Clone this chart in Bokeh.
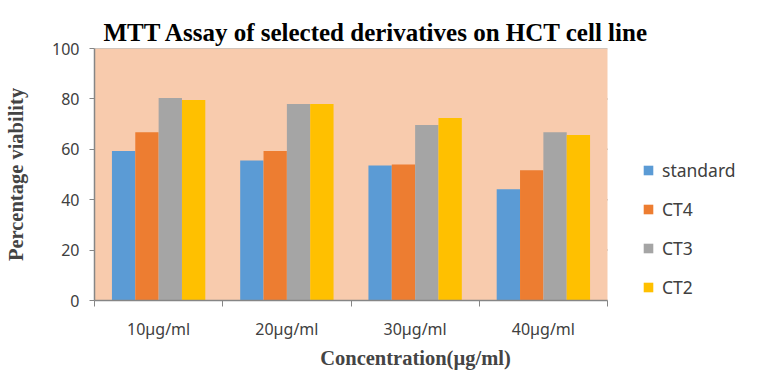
import numpy as np
from bokeh.plotting import figure
from bokeh.models import ColumnDataSource, FixedTicker, Legend, LegendItem, Range1d, BoxAnnotation
from bokeh.transform import dodge
from bokeh.embed import file_html
from bokeh.resources import INLINE

categories = ["10µg/ml", "20µg/ml", "30µg/ml", "40µg/ml"]
series_names = ["standard", "CT4", "CT3", "CT2"]
standard = [59.3, 55.6, 53.6, 44.1]
ct4 = [66.8, 59.3, 54.0, 51.7]
ct3 = [80.4, 78.0, 69.6, 66.8]
ct2 = [79.6, 78.0, 72.4, 65.7]
colors = ["#5B9BD5", "#ED7D31", "#A5A5A5", "#FFC000"]
y_ticks = [0, 20, 40, 60, 80, 100]

n = len(categories)
plot_px = 513      # width of the shaded plot area
frame_px = 642     # frame incl. legend room
x_end = n * frame_px / plot_px

pos = list(np.arange(n) + 0.5)
src = ColumnDataSource(dict(pos=pos, standard=standard, CT4=ct4, CT3=ct3, CT2=ct2))

p = figure(frame_width=frame_px, frame_height=252, output_backend="svg", toolbar_location=None,
           x_range=Range1d(0, x_end), y_range=Range1d(0, 100),
           min_border_left=94, min_border_right=2, min_border_top=48, min_border_bottom=60)

p.background_fill_color = "white"
p.border_fill_color = "white"
p.outline_line_color = None

p.add_layout(BoxAnnotation(left=0, right=n, fill_color="#F8CBAD", fill_alpha=1.0,
                           line_color=None, level="underlay"))

# horizontal grid lines limited to the plot area
p.segment(x0=[0] * len(y_ticks), x1=[n] * len(y_ticks), y0=y_ticks, y1=y_ticks,
          line_color="#868686", line_width=1.5, level="underlay")

w = 0.182
offsets = [-1.5 * w, -0.5 * w, 0.5 * w, 1.5 * w]
items = []
for name, off, c in zip(series_names, offsets, colors):
    r = p.vbar(x=dodge("pos", off, range=p.x_range), top=name, width=w, source=src,
               fill_color=c, line_color=None)
    items.append(LegendItem(label=name, renderers=[r]))

# title
p.title.text = "MTT Assay of selected derivatives on HCT  cell line"
p.title.text_font = "Liberation Serif"
p.title.text_font_size = "25px"
p.title.text_font_style = "bold"
p.title.align = "left"
p.title.offset = 9
p.title.text_color = "black"
p.title.standoff = 6

# y axis
p.yaxis.ticker = FixedTicker(ticks=y_ticks)
p.yaxis.axis_line_color = "#868686"
p.yaxis.axis_line_width = 1.5
p.yaxis.major_tick_line_color = "#868686"
p.yaxis.major_tick_out = 5
p.yaxis.major_tick_in = 0
p.yaxis.minor_tick_line_color = None
p.yaxis.major_label_text_font = "Noto Sans"
p.yaxis.major_label_text_font_size = "16px"
p.yaxis.major_label_text_color = "#404040"
p.yaxis.major_label_standoff = 10
p.yaxis.axis_label = "Percentage viability"
p.yaxis.axis_label_text_font = "Liberation Serif"
p.yaxis.axis_label_text_font_style = "bold"
p.yaxis.axis_label_text_font_size = "20.5px"
p.yaxis.axis_label_standoff = 22

# x axis
p.xaxis.ticker = FixedTicker(ticks=pos, minor_ticks=list(range(n + 1)))
p.xaxis.bounds = (0, n)
p.xaxis.major_label_overrides = {float(v): c for v, c in zip(pos, categories)}
p.xaxis.axis_line_color = "#868686"
p.xaxis.axis_line_width = 1.5
p.xaxis.major_tick_line_color = None
p.xaxis.minor_tick_line_color = "#868686"
p.xaxis.minor_tick_out = 6
p.xaxis.minor_tick_in = 0
p.xaxis.major_label_text_font = "Noto Sans"
p.xaxis.major_label_text_font_size = "16px"
p.xaxis.major_label_text_color = "#404040"
p.xaxis.major_label_standoff = 11
p.xaxis.axis_label = "Concentration(µg/ml)"
p.xaxis.axis_label_text_font = "Liberation Serif"
p.xaxis.axis_label_text_font_style = "bold"
p.xaxis.axis_label_text_font_size = "20.5px"
p.xaxis.axis_label_standoff = 4
p.xaxis.axis_label_align = "center"

p.xgrid.grid_line_color = None
p.ygrid.grid_line_color = None

legend = Legend(items=items, location=(548, 1))
legend.background_fill_alpha = 0
legend.border_line_color = None
legend.margin = 0
legend.padding = 0
legend.label_text_font = "Noto Sans"
legend.label_text_font_size = "17.5px"
legend.label_text_color = "#404040"
legend.glyph_width = 12
legend.glyph_height = 12
legend.label_height = 20
legend.spacing = 15
legend.label_standoff = 8
p.add_layout(legend, "center")

open("out.html", "w").write(file_html(p, INLINE))
